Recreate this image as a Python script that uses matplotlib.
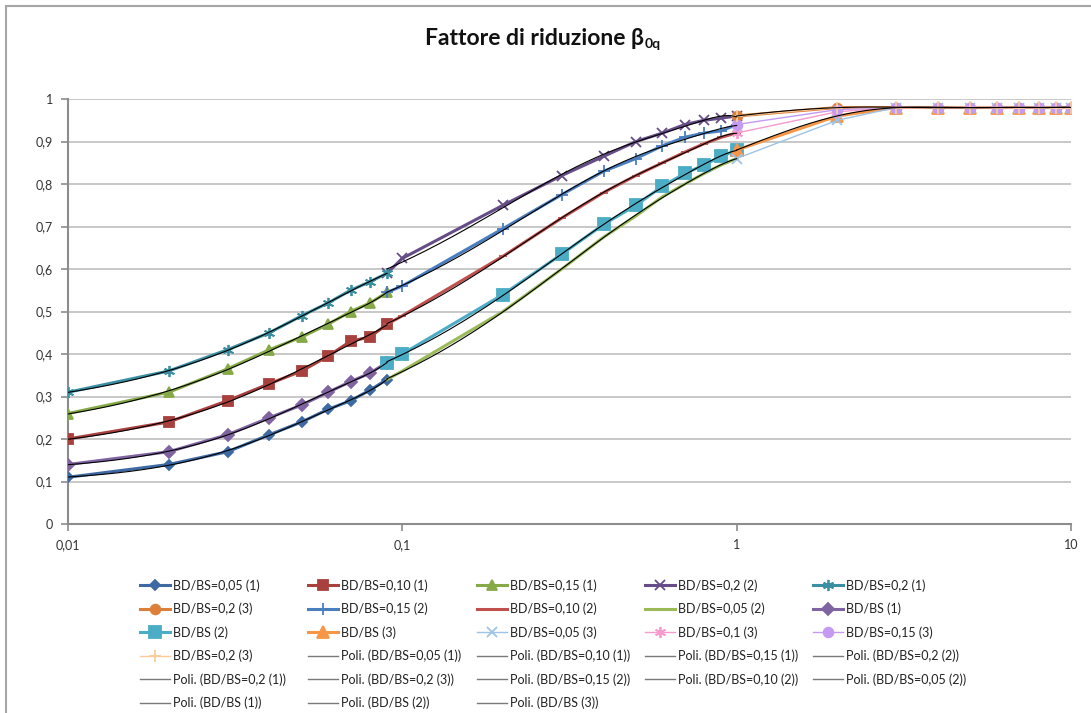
import numpy as np
import matplotlib
matplotlib.use("Agg")
import matplotlib.pyplot as plt
from matplotlib.lines import Line2D
from matplotlib.patches import Rectangle
from matplotlib.ticker import FixedLocator, FixedFormatter, NullLocator

plt.rcParams["font.family"] = ["Lato", "DejaVu Sans"]

# x values: three ranges of the diagram
x1 = [0.01, 0.02, 0.03, 0.04, 0.05, 0.06, 0.07, 0.08, 0.09]
x2 = [0.09, 0.1, 0.2, 0.3, 0.4, 0.5, 0.6, 0.7, 0.8, 0.9, 1.0]
x3 = [1, 2, 3, 4, 5, 6, 7, 8, 9, 10]

# range (1)
s005_1 = [0.11, 0.14, 0.17, 0.21, 0.24, 0.27, 0.29, 0.315, 0.34]
s010_1 = [0.20, 0.24, 0.29, 0.33, 0.36, 0.395, 0.43, 0.44, 0.47]
s015_1 = [0.26, 0.31, 0.365, 0.41, 0.44, 0.47, 0.50, 0.52, 0.545]
s02_1 = [0.31, 0.36, 0.41, 0.45, 0.49, 0.52, 0.55, 0.57, 0.59]
bdbs_1 = [0.14, 0.17, 0.21, 0.25, 0.28, 0.31, 0.335, 0.355, 0.38]

# range (2)
s005_2 = [0.34, 0.36, 0.50, 0.60, 0.675, 0.725, 0.77, 0.80, 0.825, 0.845, 0.86]
s010_2 = [0.47, 0.49, 0.63, 0.72, 0.78, 0.82, 0.85, 0.875, 0.895, 0.91, 0.92]
s015_2 = [0.545, 0.56, 0.695, 0.775, 0.83, 0.86, 0.89, 0.91, 0.92, 0.925, 0.94]
s02_2 = [0.59, 0.625, 0.75, 0.82, 0.865, 0.90, 0.92, 0.94, 0.95, 0.955, 0.96]
bdbs_2 = [0.38, 0.40, 0.54, 0.635, 0.705, 0.75, 0.795, 0.825, 0.845, 0.865, 0.88]

# range (3)
s005_3 = [0.86, 0.95, 0.98, 0.98, 0.98, 0.98, 0.98, 0.98, 0.98, 0.98]
s01_3 = [0.92, 0.97, 0.98, 0.98, 0.98, 0.98, 0.98, 0.98, 0.98, 0.98]
s015_3 = [0.94, 0.975, 0.98, 0.98, 0.98, 0.98, 0.98, 0.98, 0.98, 0.98]
s02_3 = [0.96, 0.98, 0.98, 0.98, 0.98, 0.98, 0.98, 0.98, 0.98, 0.98]
bdbs_3 = [0.88, 0.96, 0.98, 0.98, 0.98, 0.98, 0.98, 0.98, 0.98, 0.98]

yticks = [0, 0.1, 0.2, 0.3, 0.4, 0.5, 0.6, 0.7, 0.8, 0.9, 1]
ylabels = ["0", "0,1", "0,2", "0,3", "0,4", "0,5", "0,6", "0,7", "0,8", "0,9", "1"]
xticks = [0.01, 0.1, 1, 10]
xlabels = ["0,01", "0,1", "1", "10"]

W, H = 1091, 713
fig = plt.figure(figsize=(W / 100, H / 100), dpi=100)
ax = fig.add_axes([68 / W, 1 - 524 / H, (1071 - 68) / W, (524 - 99) / H])

thick = 2.2
thin = 1.0
# (label, x, y, color, marker, markersize, linewidth)
series = [
    ("BD/BS=0,05 (1)", x1, s005_1, "#3d6aa3", "D", 5.5, thick),
    ("BD/BS=0,10 (1)", x1, s010_1, "#a8403d", "s", 7, thick),
    ("BD/BS=0,15 (1)", x1, s015_1, "#86aa48", "^", 7, thick),
    ("BD/BS=0,2 (2)", x2, s02_2, "#674d87", "x", 7, thick),
    ("BD/BS=0,2 (1)", x1, s02_1, "#3b8fa3", (6, 2, 0), 8, thick),
    ("BD/BS=0,2 (3)", x3, s02_3, "#dc7f3b", "o", 7, thick),
    ("BD/BS=0,15 (2)", x2, s015_2, "#4a7ebf", "+", 8, thick),
    ("BD/BS=0,10 (2)", x2, s010_2, "#c0504d", "_", 6, thick),
    ("BD/BS=0,05 (2)", x2, s005_2, "#9bbb59", "None", 0, thick),
    ("BD/BS (1)", x1, bdbs_1, "#8064a2", "D", 6, thick),
    ("BD/BS (2)", x2, bdbs_2, "#4bacc6", "s", 8, thick),
    ("BD/BS (3)", x3, bdbs_3, "#f79646", "^", 8, thick),
    ("BD/BS=0,05 (3)", x3, s005_3, "#9dc3e6", "x", 7, thin),
    ("BD/BS=0,1 (3)", x3, s01_3, "#f79acd", (6, 2, 0), 8, thin),
    ("BD/BS=0,15 (3)", x3, s015_3, "#c59af2", "o", 7, thin),
    ("BD/BS=0,2 (3)", x3, s02_3, "#fbcb9a", "+", 8, thin),
]

handles = []
for lab, xs, ys, c, m, ms, lw in series:
    h, = ax.plot(xs, ys, color=c, marker=m, markersize=ms, lw=lw,
                 markerfacecolor=c, markeredgecolor=c, markeredgewidth=1.3,
                 label=lab, zorder=3)
    handles.append(h)

# polynomial trendlines ("Poli.")
trends = [
    ("Poli. (BD/BS=0,05 (1))", x1, s005_1, 4),
    ("Poli. (BD/BS=0,10 (1))", x1, s010_1, 4),
    ("Poli. (BD/BS=0,15 (1))", x1, s015_1, 4),
    ("Poli. (BD/BS=0,2 (2))", x2, s02_2, 4),
    ("Poli. (BD/BS=0,2 (1))", x1, s02_1, 4),
    ("Poli. (BD/BS=0,2 (3))", x3, s02_3, 6),
    ("Poli. (BD/BS=0,15 (2))", x2, s015_2, 4),
    ("Poli. (BD/BS=0,10 (2))", x2, s010_2, 4),
    ("Poli. (BD/BS=0,05 (2))", x2, s005_2, 4),
    ("Poli. (BD/BS (1))", x1, bdbs_1, 4),
    ("Poli. (BD/BS (2))", x2, bdbs_2, 4),
    ("Poli. (BD/BS (3))", x3, bdbs_3, 6),
]
for lab, xs, ys, deg in trends:
    xs = np.asarray(xs, float)
    coef = np.polyfit(xs, ys, deg)
    xf = np.linspace(xs.min(), xs.max(), 300)
    ax.plot(xf, np.polyval(coef, xf), color="black", lw=0.8, zorder=4)
    handles.append(Line2D([], [], color="#7a7a7a", lw=1.0, label=lab))

ax.set_xscale("log")
ax.set_xlim(0.01, 10)
ax.set_ylim(0, 1)
ax.xaxis.set_major_locator(FixedLocator(xticks))
ax.xaxis.set_major_formatter(FixedFormatter(xlabels))
ax.xaxis.set_minor_locator(NullLocator())
ax.yaxis.set_major_locator(FixedLocator(yticks))
ax.yaxis.set_major_formatter(FixedFormatter(ylabels))

ax.grid(axis="y", color="#c8c8c8", lw=1.4, zorder=0)
ax.set_axisbelow(True)
for s in ["top", "right"]:
    ax.spines[s].set_visible(False)
for s in ["left", "bottom"]:
    ax.spines[s].set_color("#8c8c8c")
    ax.spines[s].set_linewidth(1.5)
ax.tick_params(axis="both", colors="#8c8c8c", length=5, width=1.2,
               labelcolor="#333333", labelsize=9)
ax.tick_params(axis="x", pad=6)
ax.tick_params(axis="y", pad=6)

# title with small subscript
t = fig.text(425 / W, 1 - 45 / H, "Fattore di riduzione β", ha="left", va="baseline",
             fontsize=16.5, fontweight="bold", color="#111111")
fig.canvas.draw()
bb = t.get_window_extent()
fig.text(bb.x1 / W + 1 / W, 1 - 48 / H, "0q", ha="left", va="baseline",
         fontsize=10, fontweight="bold", color="#111111")

# legend: 5 columns, laid out row by row like the original
col_x = [140, 308, 477, 645, 813]
for c in range(5):
    hs = handles[c::5]
    fig.legend(handles=hs, labels=[h.get_label() for h in hs],
               loc="upper left", bbox_to_anchor=(col_x[c] / W, 1 - 579 / H),
               frameon=False, fontsize=9, handlelength=2.4, handletextpad=0.25,
               labelspacing=0.88, borderpad=0, borderaxespad=0, labelcolor="#222222")

fig.patches.append(Rectangle((6 / W, -0.1), 2, 1.1 - 6 / H, transform=fig.transFigure,
                             fill=False, ec="#a6a6a6", lw=1.5))

fig.savefig("out.png", dpi=100)
